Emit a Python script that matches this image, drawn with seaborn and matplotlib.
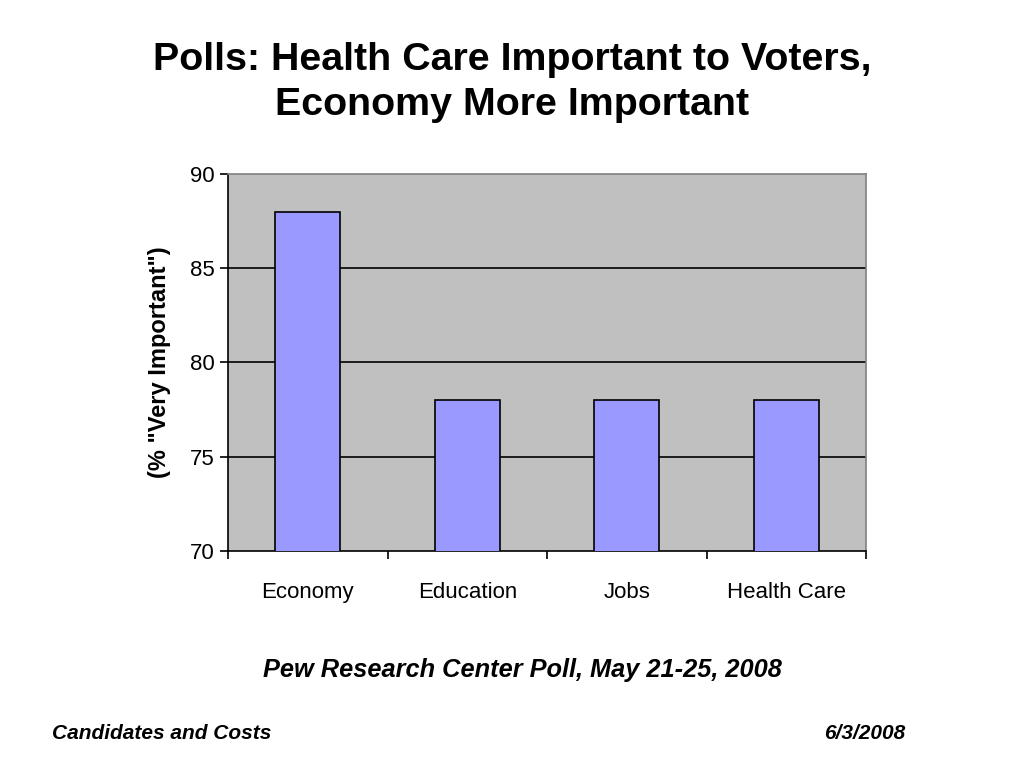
import matplotlib
matplotlib.use("Agg")
import matplotlib.pyplot as plt
import seaborn as sns
import pandas as pd

# datos
categorias = ["Economy", "Education", "Jobs", "Health Care"]
valores = [88, 78, 78, 78]
yticks = [70, 75, 80, 85, 90]

sns.set_style("white")
plt.rcParams["font.family"] = ["Liberation Sans", "DejaVu Sans"]
plt.rcParams["text.color"] = "black"
plt.rcParams["xtick.color"] = "black"
plt.rcParams["ytick.color"] = "black"
plt.rcParams["axes.labelcolor"] = "black"

df = pd.DataFrame({"cat": categorias, "val": valores})

fig = plt.figure(figsize=(10.24, 7.68), dpi=100)
ax = fig.add_axes([0.2227, 0.2826, 0.623, 0.491])
ax.set_facecolor("#c0c0c0")

sns.barplot(data=df, x="cat", y="val", color="#9999ff", width=0.41,
            edgecolor="black", linewidth=1.2, saturation=1, ax=ax, zorder=3)

ax.set_ylim(70, 90)
ax.set_xlim(-0.5, 3.5)
ax.set_yticks(yticks)
for y in yticks[1:-1]:
    ax.axhline(y, color="black", linewidth=1.2, zorder=1)

ax.set_xticks([-0.5, 0.5, 1.5, 2.5, 3.5])
ax.set_xticklabels([])
ax.set_xticks(range(4), minor=True)
ax.set_xticklabels(categorias, minor=True, fontsize=16)
ax.tick_params(axis="x", which="minor", length=0, pad=22)
ax.tick_params(axis="x", which="major", length=6, width=1.2, direction="out")
ax.tick_params(axis="y", length=6, width=1.2, direction="out", labelsize=16)
ax.tick_params(bottom=True, left=True)

for s in ax.spines.values():
    s.set_color("black")
    s.set_linewidth(1.2)
ax.spines["top"].set_color("#808080")
ax.spines["right"].set_color("#808080")

ax.set_xlabel("")
ax.set_ylabel('(% "Very Important")', fontsize=17, fontweight="bold", labelpad=14)

fig.text(0.5, 0.893, "Polls: Health Care Important to Voters,\nEconomy More Important",
         ha="center", va="center", fontsize=28.4, fontweight="bold", linespacing=1.33)
fig.text(0.51, 0.128, "Pew Research Center Poll, May 21-25, 2008",
         ha="center", va="center", fontsize=18.3, fontweight="bold", style="italic")
fig.text(0.051, 0.045, "Candidates and Costs", ha="left", va="center",
         fontsize=15, fontweight="bold", style="italic")
fig.text(0.884, 0.045, "6/3/2008", ha="right", va="center",
         fontsize=15, fontweight="bold", style="italic")

fig.savefig("out.png", dpi=100)
